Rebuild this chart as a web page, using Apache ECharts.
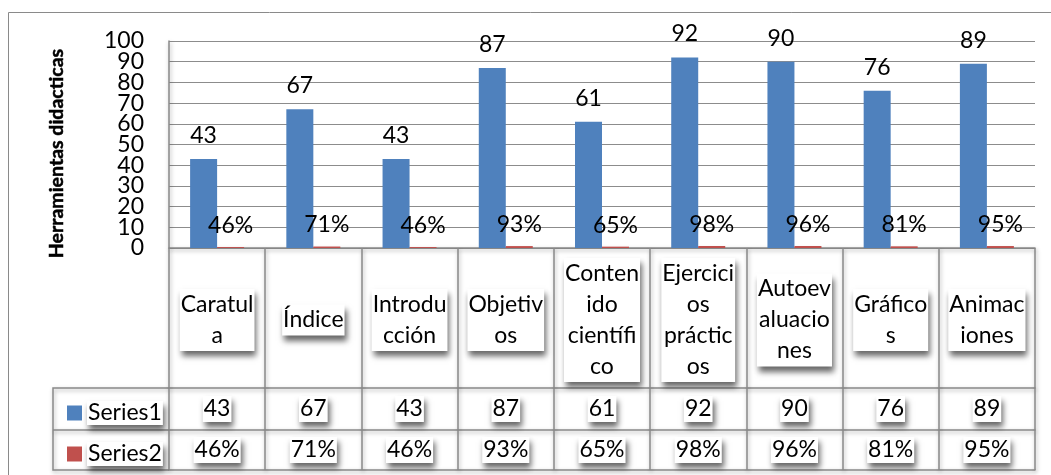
<!DOCTYPE html>
<html>
<head>
<meta charset="utf-8">
<script src="https://cdn.jsdelivr.net/npm/echarts@6/dist/echarts.min.js"></script>
<style>
html,body{margin:0;padding:0;background:#fff;}
#c{width:1051px;height:475px;}
</style>
</head>
<body>
<div id="c"></div>
<script>
const categories = ['Caratul\na', 'Índice', 'Introdu\ncción', 'Objetiv\nos', 'Conten\nido\ncientífi\nco', 'Ejercici\nos\npráctic\nos', 'Autoev\naluacio\nnes', 'Gráfico\ns', 'Animac\niones'];
const seriesNames = ['Series1', 'Series2'];
const series1 = [43, 67, 43, 87, 61, 92, 90, 76, 89];
const series2 = [0.46, 0.71, 0.46, 0.93, 0.65, 0.98, 0.96, 0.81, 0.95];
const yMin = 0, yMax = 100, yInterval = 10;
const yTitle = 'Herramientas didacticas';

const FONT = 'Lato';
const LINE = '#898989';
const lineShadow = {shadowColor: 'rgba(0,0,0,0.35)', shadowBlur: 4, shadowOffsetX: 1, shadowOffsetY: 2};
const boxStyle = {
  backgroundColor: '#fff', padding: [0, 1],
  shadowColor: 'rgba(0,0,0,0.6)', shadowBlur: 6, shadowOffsetX: 2, shadowOffsetY: 5
};
const pct = v => Math.round(v * 100) + '%';
const yLabel = {fontFamily: FONT, fontSize: 23, color: '#000', margin: 25};

const chart = echarts.init(document.getElementById('c'));
const tableAxis = (data, offset, margin, showLabel) => ({
  type: 'category', data: data, gridIndex: 0, position: 'bottom', offset: offset,
  axisLine: {show: true, onZero: false, lineStyle: Object.assign({color: LINE, width: 1.5}, lineShadow)},
  axisTick: {show: false}, splitLine: {show: false},
  axisLabel: Object.assign({show: showLabel, interval: 0, margin: margin, verticalAlign: 'middle',
    fontFamily: FONT, fontSize: 23, color: '#000', lineHeight: 26}, boxStyle)
});

chart.setOption({
  animation: false,
  textStyle: {fontFamily: FONT},
  grid: {left: 169, right: 16, top: 41, bottom: 227, containLabel: false},
  legend: {
    data: seriesNames, orient: 'vertical', left: 62, top: 396,
    itemWidth: 15, itemHeight: 15, itemGap: 17, icon: 'rect',
    textStyle: Object.assign({fontFamily: FONT, fontSize: 23, color: '#000', lineHeight: 24}, boxStyle)
  },
  xAxis: [
    {
      type: 'category', data: categories, gridIndex: 0, position: 'bottom',
      axisLine: {show: true, onZero: false, lineStyle: Object.assign({color: LINE, width: 1.5}, lineShadow)},
      axisTick: {show: true, interval: 0, length: 222, lineStyle: Object.assign({color: LINE, width: 1.5}, lineShadow)},
      axisLabel: Object.assign({interval: 0, margin: 72, verticalAlign: 'middle',
        fontFamily: FONT, fontSize: 23, color: '#000', lineHeight: 31}, boxStyle)
    },
    tableAxis(series1.map(String), 140, 21, true),
    tableAxis(series2.map(pct), 182, 20, true),
    tableAxis(categories.map(() => ''), 222, 10, false)
  ],
  yAxis: [
    {
      // even tick labels (0, 20, ... 100), axis line, title
      type: 'value', position: 'left', min: yMin, max: yMax, interval: yInterval * 2,
      name: yTitle, nameLocation: 'middle', nameRotate: 90, nameGap: 102,
      nameTextStyle: {fontFamily: FONT, fontWeight: 'bold', fontSize: 19.5, color: '#000',
        textBorderColor: '#000', textBorderWidth: 0.5, padding: [0, 18, 0, 0]},
      axisLine: {show: true, onZero: false, lineStyle: Object.assign({color: LINE, width: 1.5}, lineShadow)},
      axisTick: {show: false},
      splitLine: {show: false},
      axisLabel: Object.assign({showMinLabel: true, showMaxLabel: true}, yLabel)
    },
    {
      // every gridline and the odd tick labels (10, 30, ... 90)
      type: 'value', position: 'left', min: yMin, max: yMax, interval: yInterval,
      axisLine: {show: false, onZero: false}, axisTick: {show: false},
      splitLine: {show: true, lineStyle: {color: '#8c8c8c', width: 1}},
      axisLabel: Object.assign({showMinLabel: false, showMaxLabel: false,
        formatter: v => (v % (yInterval * 2) === yInterval ? String(v) : '')}, yLabel)
    }
  ],
  series: [
    {
      name: seriesNames[0], type: 'bar', data: series1, barWidth: 27, barGap: '0%',
      itemStyle: {color: '#4F81BD'},
      label: {show: true, position: 'top', distance: 12, fontFamily: FONT, fontSize: 23, color: '#000'}
    },
    {
      name: seriesNames[1], type: 'bar', data: series2, barWidth: 27, barGap: '0%',
      itemStyle: {color: '#C0504D'},
      label: {show: true, position: 'top', distance: 10, fontFamily: FONT, fontSize: 23, color: '#000',
        formatter: p => pct(p.value)}
    }
  ],
  graphic: [
    {type: 'rect', shape: {x: 8.5, y: 12.5, width: 1100, height: 500}, style: {fill: 'none', stroke: '#8a8a8a', lineWidth: 1}, silent: true},
    {type: 'polyline', shape: {points: [[169, 388], [53, 388], [53, 470], [169, 470]]}, style: Object.assign({fill: 'none', stroke: LINE, lineWidth: 1.5}, lineShadow), silent: true},
    {type: 'line', shape: {x1: 53, y1: 430, x2: 169, y2: 430}, style: Object.assign({stroke: LINE, lineWidth: 1.5}, lineShadow), silent: true}
  ]
});
</script>
</body>
</html>
